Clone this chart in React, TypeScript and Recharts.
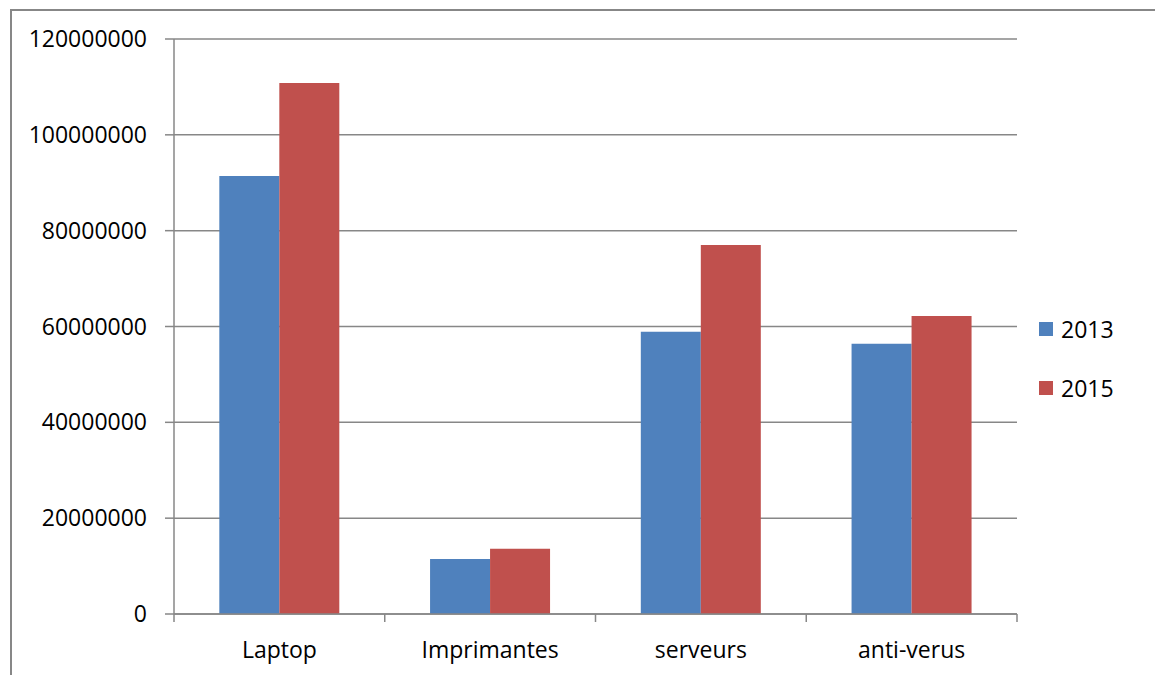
import { BarChart, Bar, XAxis, YAxis, CartesianGrid } from "recharts";

const categories = ["Laptop", "Imprimantes", "serveurs", "anti-verus"];
const values2013 = [91400000, 11500000, 58900000, 56400000];
const values2015 = [110800000, 13600000, 77000000, 62200000];
const yTicks = [0, 20000000, 40000000, 60000000, 80000000, 100000000, 120000000];

const series = [
  { key: "y2013", name: "2013", color: "#4F81BD" },
  { key: "y2015", name: "2015", color: "#C0504D" },
];

const data = categories.map((c, i) => ({
  name: c,
  y2013: values2013[i],
  y2015: values2015[i],
}));

const FONT = "'Open Sans', 'Liberation Sans', sans-serif";
const FS = 23;
const AXIS = "#878787";

// excel-style category ticks: marks on the band edges, label in the middle
const CategoryTick = (props: any) => {
  const { x, y, payload, index, visibleTicksCount } = props;
  const half = payload && payload.offset ? payload.offset : (1017 - 174) / categories.length / 2;
  const top = y - 20;
  return (
    <g>
      <line x1={x - half} x2={x - half} y1={top - 8} y2={top} stroke={AXIS} strokeWidth={1.5} />
      {index === visibleTicksCount - 1 && (
        <line x1={x + half} x2={x + half} y1={top - 8} y2={top} stroke={AXIS} strokeWidth={1.5} />
      )}
      <text x={x} y={y} dy="0.71em" textAnchor="middle" fill="#000" fontSize={FS} fontFamily={FONT}>
        {payload.value}
      </text>
    </g>
  );
};

export default function App() {
  return (
    <div style={{ position: "absolute", left: 0, top: 0, width: 1155, height: 675, background: "#fff", overflow: "hidden" }}>
      <div
        style={{
          position: "absolute",
          left: 10,
          top: 9,
          width: 1200,
          height: 700,
          borderTop: `2px solid ${AXIS}`,
          borderLeft: `2px solid ${AXIS}`,
        }}
      />
      <div style={{ position: "absolute", left: 0, top: 0 }}>
        <BarChart
          width={1155}
          height={675}
          data={data}
          margin={{ top: 39, right: 138, bottom: 0, left: 0 }}
          barCategoryGap="21.5%"
          barGap={0}
        >
          <CartesianGrid vertical={false} stroke={AXIS} strokeWidth={1.5} />
          <XAxis
            dataKey="name"
            height={61}
            tickLine={false}
            tickSize={8}
            tickMargin={20}
            axisLine={{ stroke: AXIS, strokeWidth: 1.5 }}
            tick={<CategoryTick />}
            interval={0}
          />
          <YAxis
            width={174}
            domain={[0, 120000000]}
            ticks={yTicks}
            interval={0}
            tickSize={9}
            tickMargin={18}
            tickLine={{ stroke: AXIS, strokeWidth: 1.5 }}
            axisLine={{ stroke: AXIS, strokeWidth: 1.5 }}
            tick={{ fill: "#000", fontSize: FS, fontFamily: FONT }}
          />
          {series.map((s) => (
            <Bar key={s.key} dataKey={s.key} name={s.name} fill={s.color} isAnimationActive={false} />
          ))}
        </BarChart>
      </div>
      <div style={{ position: "absolute", left: 1039, top: 299, fontFamily: FONT, fontSize: FS, color: "#000" }}>
        {series.map((s) => (
          <div key={s.key} style={{ display: "flex", alignItems: "center", height: 59 }}>
            <span style={{ width: 14, height: 14, background: s.color, marginRight: 8, display: "inline-block" }} />
            <span>{s.name}</span>
          </div>
        ))}
      </div>
    </div>
  );
}
